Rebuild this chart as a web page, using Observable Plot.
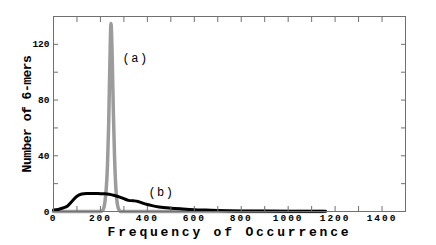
<!DOCTYPE html>
<html><head><meta charset="utf-8">
<script src="https://cdn.jsdelivr.net/npm/d3@7"></script>
<script src="https://cdn.jsdelivr.net/npm/@observablehq/plot@0.6"></script>
<style>body{margin:0;background:#fff;} svg{display:block;}</style>
</head><body><div id="chart"></div>
<script>
// Curve (a): narrow peak
const aFreq  = [0, 150, 200, 210, 215, 220, 225, 230, 235, 240, 245, 250, 255, 260, 265, 270, 275, 280, 285, 295, 1150];
const aCount = [0, 0,   0,   1,   3,   8,   17,  33,  62,  105, 135, 112, 72,  40,  19,  8,   3,   1,   0,   0,   0];
// Curve (b): broad distribution
const bFreq  = [0, 20, 40, 60, 80, 100, 120, 140, 160, 180, 200, 220, 240, 260, 280, 300, 320, 340, 360, 380, 400, 420, 450, 500, 550, 600, 650, 700, 800, 900, 1000, 1100, 1160];
const bCount = [1, 1.5, 2.5, 4, 7.5, 11, 12.6, 13, 12.9, 13, 12.8, 12.8, 12.3, 11.5, 10.5, 9.2, 8, 7.7, 7.2, 6, 5, 4.2, 3.3, 2.4, 1.8, 1.3, 1, 0.7, 0.4, 0.3, 0.2, 0.1, 0.1];
const xMajor = [0, 200, 400, 600, 800, 1000, 1200, 1400];
const xMinor = d3.range(0, 1501, 100);
const yMajor = [0, 40, 80, 120];
const yMinor = [0, 20, 40, 60, 80, 100, 120, 140];
const labels = [{x: 350, y: 110, t: "(a)"}, {x: 460, y: 14, t: "(b)"}];
const xTitle = "Frequency of Occurrence";
const yTitle = "Number of 6-mers";

const A = aFreq.map((x, i) => ({x, y: aCount[i]}));
const B = bFreq.map((x, i) => ({x, y: bCount[i]}));
const mono = "'Liberation Mono', 'DejaVu Sans Mono', monospace";

const plot = Plot.plot({
  width: 436, height: 245,
  marginLeft: 53, marginRight: 31, marginTop: 16, marginBottom: 34,
  style: {background: "#fff"},
  x: {domain: [0, 1500]},
  y: {domain: [0, 140]},
  marks: [
    Plot.line(A, {x: "x", y: "y", stroke: "#9c9c9c", strokeWidth: 3.5, curve: "monotone-x"}),
    Plot.line(B, {x: "x", y: "y", stroke: "#000", strokeWidth: 3, curve: "monotone-x"}),
    Plot.frame({stroke: "#707070"}),
    Plot.axisX(xMinor, {anchor: "bottom", tickSize: -5, tickFormat: () => "", stroke: "#707070", label: null}),
    Plot.axisX(xMinor, {anchor: "top", tickSize: -5, tickFormat: () => "", stroke: "#707070", label: null}),
    Plot.axisX(xMajor, {anchor: "bottom", tickSize: 0, tickPadding: 3, tickFormat: d3.format("d"), fontSize: 9.5, fontWeight: "bold", fill: "#000", label: null, className: "xlab"}),
    Plot.axisY(yMinor, {anchor: "left", tickSize: -5, tickFormat: () => "", stroke: "#707070", label: null}),
    Plot.axisY(yMinor, {anchor: "right", tickSize: -5, tickFormat: () => "", stroke: "#707070", label: null}),
    Plot.axisY(yMajor, {anchor: "left", tickSize: 0, tickPadding: 4, fontSize: 9.5, fontWeight: "bold", fill: "#000", label: null, className: "ylab"}),
    Plot.text(labels, {x: "x", y: "y", text: "t", fontSize: 12, fill: "#000", className: "clab"}),
    Plot.text([xTitle], {frameAnchor: "bottom", textAnchor: "middle", dy: 24, fontSize: 13, fontWeight: "bold", fill: "#000", className: "xtitle"}),
    Plot.text([yTitle], {frameAnchor: "left", textAnchor: "middle", dx: -27, rotate: -90, fontSize: 13, fontWeight: "bold", fill: "#000", className: "ytitle"})
  ]
});
document.getElementById("chart").appendChild(plot);
const s = d3.select(plot);
s.selectAll("text").style("font-family", mono);
s.selectAll(".xlab text").attr("letter-spacing", 2);
s.selectAll(".clab text").attr("letter-spacing", 1.5);
s.selectAll(".xtitle text").attr("letter-spacing", 2.8);
s.selectAll(".ytitle text").attr("letter-spacing", -0.5);
</script></body></html>
